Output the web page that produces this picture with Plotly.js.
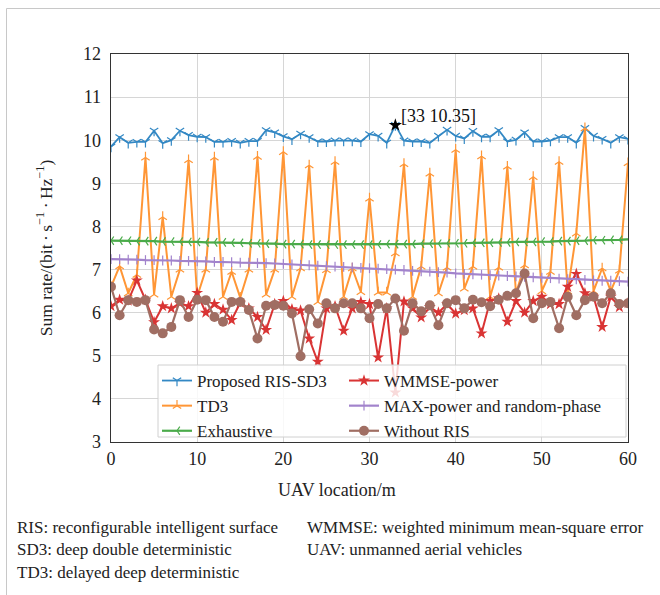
<!DOCTYPE html>
<html>
<head>
<meta charset="utf-8">
<script src="https://cdn.plot.ly/plotly-3.0.1.min.js"></script>
<style>
html,body{margin:0;padding:0;background:#fff;}
#chart{width:660px;height:595px;}
</style>
</head>
<body>
<div id="chart"></div>
<script>
const uavLocation = [0,1,2,3,4,5,6,7,8,9,10,11,12,13,14,15,16,17,18,19,20,21,22,23,24,25,26,27,28,29,30,31,32,33,34,35,36,37,38,39,40,41,42,43,44,45,46,47,48,49,50,51,52,53,54,55,56,57,58,59,60];

const proposedSD3 = [9.85,10.07,9.94,9.96,9.96,10.22,9.93,10.00,10.22,10.12,
  10.08,10.07,9.96,9.96,9.98,9.94,9.98,9.98,10.23,10.18,
  10.09,10.02,10.15,10.07,9.97,9.97,9.99,9.99,9.99,9.97,
  10.14,10.10,9.94,10.35,9.99,9.97,9.97,9.94,10.10,10.24,
  10.10,10.04,10.21,10.08,10.08,10.23,9.97,10.01,10.18,9.97,
  9.97,9.99,10.07,10.07,9.94,10.28,10.10,10.03,9.94,10.07,10.03];

const td3 = [6.60,7.08,6.45,6.88,9.60,6.42,8.22,6.37,7.00,9.54,
  6.37,7.00,9.60,6.37,6.95,6.35,7.00,9.62,6.42,7.00,
  9.73,6.37,7.03,9.42,6.25,6.99,9.50,6.37,7.03,6.48,
  8.65,6.47,6.47,7.38,9.45,6.37,7.07,9.23,6.45,7.05,
  9.78,6.56,7.07,9.63,6.37,7.05,9.39,6.45,7.10,9.15,
  6.50,6.95,9.50,6.50,7.84,10.28,6.50,7.03,6.50,6.98,9.47];

const exhaustive = [7.67,7.67,7.67,7.66,7.66,7.66,7.65,7.65,7.65,7.64,
  7.64,7.63,7.63,7.63,7.62,7.62,7.61,7.61,7.60,7.60,
  7.59,7.59,7.59,7.58,7.58,7.58,7.58,7.58,7.58,7.58,
  7.58,7.58,7.59,7.59,7.59,7.59,7.60,7.60,7.60,7.61,
  7.61,7.61,7.62,7.62,7.62,7.63,7.63,7.64,7.64,7.64,
  7.65,7.65,7.66,7.66,7.67,7.67,7.68,7.68,7.69,7.69,7.70];

const wmmsePower = [6.15,6.30,6.28,6.75,6.30,5.78,6.15,6.10,6.22,6.15,
  6.46,6.00,6.20,6.07,5.83,6.23,6.10,5.90,5.60,6.20,
  6.27,6.08,6.05,5.40,4.86,6.10,6.15,5.58,6.10,6.25,
  6.20,4.96,6.10,4.15,6.26,6.10,5.89,6.13,6.00,6.20,
  5.98,6.06,6.10,5.52,6.27,6.33,5.79,6.27,6.00,6.27,
  6.37,6.20,6.20,6.60,6.90,6.45,6.37,5.67,6.37,6.13,6.22];

const maxPowerRandomPhase = [7.24,7.24,7.23,7.23,7.22,7.22,7.21,7.21,7.20,7.20,
  7.19,7.19,7.18,7.18,7.17,7.16,7.16,7.15,7.15,7.14,
  7.13,7.12,7.11,7.10,7.09,7.08,7.07,7.06,7.05,7.04,
  7.03,7.02,7.01,7.00,6.99,6.97,6.96,6.95,6.94,6.93,
  6.91,6.90,6.89,6.88,6.87,6.86,6.85,6.84,6.83,6.82,
  6.81,6.80,6.79,6.78,6.77,6.76,6.75,6.74,6.74,6.73,6.72];

const withoutRIS = [6.60,5.94,6.29,6.25,6.29,5.61,5.52,5.67,6.29,5.90,
  6.30,6.29,5.90,5.79,6.25,6.25,6.06,5.40,6.16,6.18,
  6.16,5.98,4.99,6.08,5.75,6.22,6.10,6.22,6.22,6.10,
  5.87,6.20,6.10,6.33,5.58,6.22,6.03,6.17,5.71,6.22,
  6.29,6.10,6.30,6.24,6.15,6.30,6.39,6.45,6.91,5.87,
  6.22,6.25,5.64,6.37,5.94,6.29,6.37,6.22,6.45,6.20,6.22];

const seriesNames = ['Proposed RIS-SD3','TD3','Exhaustive','WMMSE-power','MAX-power and random-phase','Without RIS'];
const highlightX = [33];
const highlightY = [10.35];
const highlightLabel = '[33 10.35]';
const xTickVals = [0,10,20,30,40,50,60];
const yTickVals = [3,4,5,6,7,8,9,10,11,12];
const xTitle = 'UAV location/m';
const yTitle = 'Sum rate/(bit\u2009\u00b7\u2009s<sup>\u22121</sup>\u2009\u00b7\u2009Hz<sup>\u22121</sup>)';
const notes = [
  'RIS: reconfigurable intelligent surface',
  'SD3: deep double deterministic',
  'TD3: delayed deep deterministic',
  'WMMSE: weighted minimum mean-square error',
  'UAV: unmanned aerial vehicles'
];

const SERIF = 'Liberation Serif, Times New Roman, serif';
const C = {blue:'#3388c4', orange:'#ff9636', green:'#4aab4a', red:'#d93434', purple:'#a283cc', brown:'#a06e63'};

function tr(y, name, color, symbol, size, legendId, lw, symLineW) {
  return {
    x: uavLocation, y: y, name: name, type: 'scatter', mode: 'lines+markers',
    line: {color: color, width: lw},
    marker: {symbol: symbol, size: size, color: color, line: {color: color, width: symLineW}},
    legend: legendId
  };
}

const data = [
  tr(proposedSD3, seriesNames[0], C.blue, 'y-down', 7, 'legend', 1.8, 1.2),
  tr(td3, seriesNames[1], C.orange, 'y-up', 7, 'legend', 2, 1.2),
  tr(exhaustive, seriesNames[2], C.green, 'y-left', 7, 'legend', 2.2, 1.2),
  tr(wmmsePower, seriesNames[3], C.red, 'star', 9, 'legend2', 2, 0),
  tr(maxPowerRandomPhase, seriesNames[4], C.purple, 'line-ns', 7, 'legend2', 2.2, 1.2),
  tr(withoutRIS, seriesNames[5], C.brown, 'circle', 10, 'legend2', 2.2, 0),
  {x: highlightX, y: highlightY, type:'scatter', mode:'markers', showlegend:false,
   marker:{symbol:'star', size:10, color:'#000'}, hoverinfo:'skip'}
];

// pixel helpers for paper coordinates (plot area 111..628 x 54..442)
const PL = 111, PR = 628, PT = 54, PB = 442;
const px = v => (v - PL) / (PR - PL);
const py = v => (PB - v) / (PB - PT);

const noteFont = {family:SERIF, size:17, color:'#222'};
const annotations = [
  {x: highlightX[0], y: highlightY[0], xref:'x', yref:'y', text: highlightLabel, showarrow:false,
   xanchor:'left', yanchor:'middle', xshift:4, yshift:9, font:{family:SERIF, size:18, color:'#111'}},
  {x: px(337), y: py(490), xref:'paper', yref:'paper', text: xTitle, showarrow:false, xanchor:'center', yanchor:'middle', font:{family:SERIF, size:18, color:'#222'}},
  {x: px(15), y: py(527), xref:'paper', yref:'paper', text: notes[0], showarrow:false, xanchor:'left', yanchor:'middle', font:noteFont},
  {x: px(15), y: py(549), xref:'paper', yref:'paper', text: notes[1], showarrow:false, xanchor:'left', yanchor:'middle', font:noteFont},
  {x: px(15), y: py(572), xref:'paper', yref:'paper', text: notes[2], showarrow:false, xanchor:'left', yanchor:'middle', font:noteFont},
  {x: px(305), y: py(527), xref:'paper', yref:'paper', text: notes[3], showarrow:false, xanchor:'left', yanchor:'middle', font:noteFont},
  {x: px(305), y: py(549), xref:'paper', yref:'paper', text: notes[4], showarrow:false, xanchor:'left', yanchor:'middle', font:noteFont}
];

const shapes = [
  {type:'line', xref:'paper', yref:'paper', x0:px(6.5), x1:px(662), y0:py(8.5), y1:py(8.5), line:{color:'#c8c8c8', width:1}},
  {type:'line', xref:'paper', yref:'paper', x0:px(6.5), x1:px(6.5), y0:py(8.5), y1:py(597), line:{color:'#c8c8c8', width:1}},
  {type:'rect', xref:'paper', yref:'paper', layer:'above', x0:px(158), x1:px(626), y0:py(365), y1:py(437),
   fillcolor:'rgba(255,255,255,0.82)', line:{color:'#d0d0d0', width:1}}
];

const axisCommon = {
  showgrid:true, gridcolor:'#d6d6d6', gridwidth:1, zeroline:false,
  showline:true, mirror:true, linecolor:'#333', linewidth:1.3,
  ticks:'', tickfont:{family:SERIF, size:18, color:'#222'}, automargin:false
};

const legendCommon = {orientation:'v', xanchor:'left', yanchor:'top',
  bgcolor:'rgba(0,0,0,0)', borderwidth:0, font:{family:SERIF, size:17, color:'#222'},
  traceorder:'normal', itemwidth:30, tracegroupgap:0};

const layout = {
  width:660, height:595,
  margin:{l:PL, r:660-PR, t:PT, b:595-PB, pad:0},
  paper_bgcolor:'#fff', plot_bgcolor:'#fff',
  font:{family:SERIF, size:17, color:'#222'},
  xaxis: Object.assign({}, axisCommon, {range:[0,60], tickvals:xTickVals}),
  yaxis: Object.assign({}, axisCommon, {range:[3,12], tickvals:yTickVals, ticklabelstandoff:5,
    title:{text:yTitle, font:{family:SERIF, size:17.5, color:'#222'}, standoff:26}}),
  showlegend:true,
  legend: Object.assign({}, legendCommon, {x:px(157), y:py(363)}),
  legend2: Object.assign({}, legendCommon, {x:px(344), y:py(363)}),
  annotations: annotations,
  shapes: shapes,
  hovermode:false
};

Plotly.newPlot('chart', data, layout, {displayModeBar:false, staticPlot:true});
</script>
</body>
</html>
